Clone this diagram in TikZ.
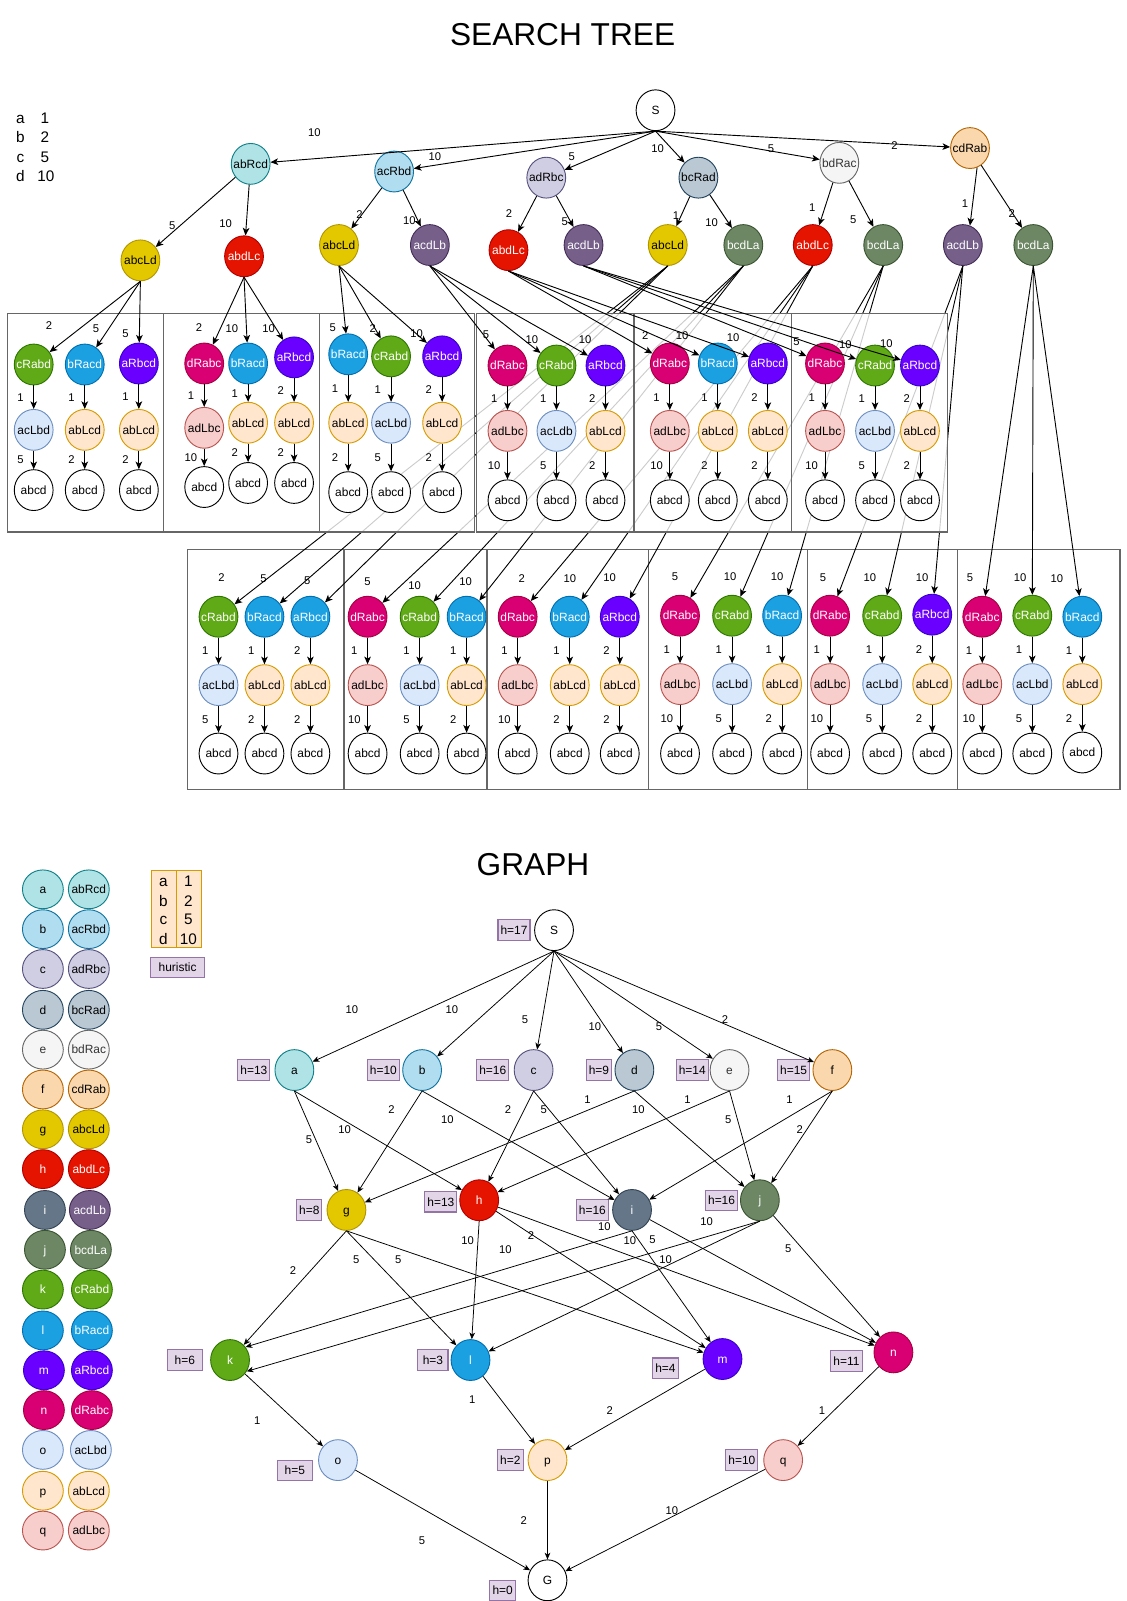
\documentclass[tikz,border=0pt]{standalone}
\usepackage{fontspec}
\setmainfont{Liberation Sans}
\usetikzlibrary{shapes.geometric,arrows.meta,calc}

\definecolor{aF}{HTML}{B0E3E6}\definecolor{aS}{HTML}{0E8088}
\definecolor{bF}{HTML}{B1DDF0}\definecolor{bS}{HTML}{10739E}
\definecolor{cF}{HTML}{D0CEE2}\definecolor{cS}{HTML}{56517E}
\definecolor{dF}{HTML}{BAC8D3}\definecolor{dS}{HTML}{23445D}
\definecolor{eF}{HTML}{F5F5F5}\definecolor{eS}{HTML}{666666}\definecolor{eT}{HTML}{333333}
\definecolor{fF}{HTML}{FAD7AC}\definecolor{fS}{HTML}{B46504}
\definecolor{gF}{HTML}{E3C800}\definecolor{gS}{HTML}{B09500}
\definecolor{hF}{HTML}{E51400}\definecolor{hS}{HTML}{B20000}
\definecolor{iF}{HTML}{647687}\definecolor{iS}{HTML}{314354}
\definecolor{itF}{HTML}{76608A}\definecolor{itS}{HTML}{432D57}
\definecolor{jF}{HTML}{6D8764}\definecolor{jS}{HTML}{3A5431}
\definecolor{kF}{HTML}{60A917}\definecolor{kS}{HTML}{2D7600}
\definecolor{lF}{HTML}{1BA1E2}\definecolor{lS}{HTML}{006EAF}
\definecolor{mF}{HTML}{6A00FF}\definecolor{mS}{HTML}{3700CC}
\definecolor{nF}{HTML}{D80073}\definecolor{nS}{HTML}{A50040}
\definecolor{oF}{HTML}{DAE8FC}\definecolor{oS}{HTML}{6C8EBF}
\definecolor{pF}{HTML}{FFE6CC}\definecolor{pS}{HTML}{D79B00}
\definecolor{qF}{HTML}{F8CECC}\definecolor{qS}{HTML}{B85450}
\definecolor{huF}{HTML}{E1D5E7}\definecolor{huS}{HTML}{9673A6}
\definecolor{boxC}{HTML}{666666}

\newcommand\nodefont{\fontsize{11.7}{13}\selectfont}
\newcommand\lblfont{\fontsize{11}{12}\selectfont}
\newcommand\titlefont{\fontsize{31}{36}\selectfont}
\newcommand\legfont{\fontsize{15}{17}\selectfont}

\tikzset{
  nd/.style={ellipse, draw, line width=0.9pt, minimum width=38pt, minimum height=40pt,
    inner xsep=-4pt, inner ysep=0pt, font=\nodefont, text height=8.4pt, text depth=0pt},
  lg/.style={nd, minimum width=40pt, minimum height=38pt},
  sA/.style={fill=aF, draw=aS, text=black},
  sB/.style={fill=bF, draw=bS, text=black},
  sC/.style={fill=cF, draw=cS, text=black},
  sD/.style={fill=dF, draw=dS, text=black},
  sE/.style={fill=eF, draw=eS, text=eT},
  sF/.style={fill=fF, draw=fS, text=black},
  sG/.style={fill=gF, draw=gS, text=black},
  sH/.style={fill=hF, draw=hS, text=white},
  sI/.style={fill=iF, draw=iS, text=white},
  sIt/.style={fill=itF, draw=itS, text=white},
  sJ/.style={fill=jF, draw=jS, text=white},
  sK/.style={fill=kF, draw=kS, text=white},
  sL/.style={fill=lF, draw=lS, text=white},
  sM/.style={fill=mF, draw=mS, text=white},
  sN/.style={fill=nF, draw=nS, text=white},
  sO/.style={fill=oF, draw=oS, text=black},
  sP/.style={fill=pF, draw=pS, text=black},
  sQ/.style={fill=qF, draw=qS, text=black},
  sW/.style={fill=white, draw=black, text=black},
  arr/.style={draw=black, line width=0.9pt, -{Stealth[length=7.5pt,width=6.5pt,inset=2pt]}},
  garr/.style={draw=black, line width=0.75pt, -{Stealth[length=6.5pt,width=5.5pt,inset=1.8pt]}},
  lbl/.style={font=\lblfont, inner sep=0pt, text=black, text height=7.8pt, text depth=0pt},
  boxa/.style={draw=boxC, line width=1.2pt, fill=white, fill opacity=0.8},
  boxb/.style={draw=boxC, line width=1.2pt},
  hb/.style={rectangle, draw=huS, fill=huF, line width=1pt, minimum height=20pt,
    inner xsep=2.5pt, inner ysep=0pt, font=\nodefont, text height=8.4pt, text depth=0pt},
  lgt/.style={font=\legfont, inner sep=0pt, text height=10.8pt, text depth=0pt},
}

\newcommand\myCol[9]{%
  \node[nd,#6] (c#1) at (#2,#3) {#7};
  \node[nd,#8] (m#1) at (#2,#4) {#9};
  \node[nd,sW] (b#1) at (#2,#5) {abcd};}
\newcommand\myVV[3]{%
  \draw[arr] (c#1) -- node[lbl,xshift=-13pt]{#2} (m#1);
  \draw[arr] (m#1) -- node[lbl,xshift=-13pt]{#3} (b#1);}
\newcommand\myE[5]{\draw[arr] (#1) -- (#2); \node[lbl] at (#3,#4) {#5};}
\newcommand\myGE[5]{\draw[garr] (#1) -- (#2); \node[lbl] at (#3,#4) {#5};}
\newcommand\lgrow[8]{%
  \node[lg,#5] (lga#1) at (#3,#2) {#7};
  \node[lg,#6] (lgb#1) at (#4,#2) {#8};}

\begin{document}
\begin{tikzpicture}[x=1pt,y=-1pt]
\useasboundingbox (0,0) rectangle (1103,1568);
\fill[white] (0,0) rectangle (1103,1568);

% titles
\node[font=\titlefont] (title1) at (551,34) {SEARCH TREE};
\node[font=\titlefont] (title2) at (522,847) {GRAPH};

% top-left legend
\node[lgt] (kl1) at (20,115.6) {a}; \node[lgt] (kn1) at (44,115.6) {1};
\node[lgt] (kl2) at (20,134) {b};   \node[lgt] (kn2) at (44,134) {2};
\node[lgt] (kl3) at (20,153.4) {c}; \node[lgt] (kn3) at (44,153.4) {5};
\node[lgt] (kl4) at (20,172) {d};   \node[lgt] (kn4) at (45,172) {10};

% ---------- row 2 boxes (outlines) ----------
\foreach \a/\b in {184/337,337/477,477/635,635/791,791/938,938/1097}
  \draw[boxb] (\a,538) rectangle (\b,773);

% row 2 nodes
\myCol{7a}{214}{604}{671}{738}{sK}{cRabd}{sO}{acLbd}
\myCol{7b}{259}{604}{671}{738}{sL}{bRacd}{sP}{abLcd}
\myCol{7c}{304}{604}{671}{738}{sL}{aRbcd}{sP}{abLcd}
\myCol{8a}{360}{604}{671}{738}{sN}{dRabc}{sQ}{adLbc}
\myCol{8b}{411}{604}{671}{738}{sK}{cRabd}{sO}{acLbd}
\myCol{8c}{457}{604}{671}{738}{sL}{bRacd}{sP}{abLcd}
\myCol{9a}{507}{604}{671}{738}{sN}{dRabc}{sQ}{adLbc}
\myCol{9b}{558}{604}{671}{738}{sL}{bRacd}{sP}{abLcd}
\myCol{9c}{607}{604}{671}{738}{sM}{aRbcd}{sP}{abLcd}
\myCol{10a}{666}{603}{670}{738}{sN}{dRabc}{sQ}{adLbc}
\myCol{10b}{717}{603}{670}{738}{sK}{cRabd}{sO}{acLbd}
\myCol{10c}{766}{603}{670}{738}{sL}{bRacd}{sP}{abLcd}
\myCol{11a}{813}{603}{670}{738}{sN}{dRabc}{sQ}{adLbc}
\myCol{11b}{864}{603}{670}{738}{sK}{cRabd}{sO}{acLbd}
\myCol{11c}{913}{602}{670}{738}{sM}{aRbcd}{sP}{abLcd}
\myCol{12a}{962}{604}{670}{738}{sN}{dRabc}{sQ}{adLbc}
\myCol{12b}{1011}{603}{670}{738}{sK}{cRabd}{sO}{acLbd}
\myCol{12c}{1060}{604}{670}{737}{sL}{bRacd}{sP}{abLcd}

% root, level 1, level 2
\node[nd,sW] (S0) at (642,108) {S};
\node[nd,sA] (T1) at (245.5,160.5) {abRcd};
\node[nd,sB] (T2) at (386,168) {acRbd};
\node[nd,sC] (T3) at (535,174) {adRbc};
\node[nd,sD] (T4) at (684,174) {bcRad};
\node[nd,sE] (T5) at (822,159.5) {bdRac};
\node[nd,sF] (T6) at (950,145) {cdRab};

\node[nd,sG]  (U1)  at (137.5,255) {abcLd};
\node[nd,sH]  (U2)  at (239,251) {abdLc};
\node[nd,sG]  (U3)  at (332,240) {abcLd};
\node[nd,sIt] (U4)  at (421,240) {acdLb};
\node[nd,sH]  (U5)  at (498,245) {abdLc};
\node[nd,sIt] (U6)  at (571.5,240) {acdLb};
\node[nd,sG]  (U7)  at (654,240) {abcLd};
\node[nd,sJ]  (U8)  at (728,240) {bcdLa};
\node[nd,sH]  (U9)  at (796,240) {abdLc};
\node[nd,sJ]  (U10) at (865,240) {bcdLa};
\node[nd,sIt] (U11) at (943,240) {acdLb};
\node[nd,sJ]  (U12) at (1012,240) {bcdLa};

% long edges to row 2
\myE{U7.south}{c7a}{217}{566}{2}
\myE{U7.south}{c7b}{258}{567}{5}
\myE{U7.south}{c7c}{301}{569}{5}
\myE{U8.south}{c8a}{360}{570}{5}
\myE{U8.south}{c8b}{406}{573}{10}
\myE{U8.south}{c8c}{456}{570}{10}
\myE{U9.south}{c9a}{511}{567}{2}
\myE{U9.south}{c9b}{558}{567}{10}
\myE{U9.south}{c9c}{597}{566}{10}
\myE{U10.south}{c10a}{661}{565}{5}
\myE{U10.south}{c10b}{715}{565}{10}
\myE{U10.south}{c10c}{761}{565}{10}
\myE{U11.south}{c11a}{806}{566}{5}
\myE{U11.south}{c11b}{852}{566}{10}
\myE{U11.south}{c11c}{903}{566}{10}
\myE{U12.south}{c12a}{950}{566}{5}
\myE{U12.south}{c12b}{999}{566}{10}
\myE{U12.south}{c12c}{1035}{567}{10}

\myVV{7a}{1}{5} \myVV{7b}{1}{2} \myVV{7c}{2}{2}
\myVV{8a}{1}{10} \myVV{8b}{1}{5} \myVV{8c}{1}{2}
\myVV{9a}{1}{10} \myVV{9b}{1}{2} \myVV{9c}{2}{2}
\myVV{10a}{1}{10} \myVV{10b}{1}{5} \myVV{10c}{1}{2}
\myVV{11a}{1}{10} \myVV{11b}{1}{5} \myVV{11c}{2}{2}
\myVV{12a}{1}{10} \myVV{12b}{1}{5} \myVV{12c}{1}{2}

% ---------- row 1 boxes (semi-opaque) ----------
\foreach \a/\b in {7/160,160/313,313/465,467/621,621/775,775/928}
  \draw[boxa] (\a,307) rectangle (\b,521);

\myCol{1a}{33}{357}{421}{480}{sK}{cRabd}{sO}{acLbd}
\myCol{1b}{83}{357}{421}{480}{sL}{bRacd}{sP}{abLcd}
\myCol{1c}{136}{356}{421}{480}{sM}{aRbcd}{sP}{abLcd}
\myCol{2a}{200}{356}{419}{477}{sN}{dRabc}{sQ}{adLbc}
\myCol{2b}{243}{356}{414}{473}{sL}{bRacd}{sP}{abLcd}
\myCol{2c}{288}{350}{414}{473}{sM}{aRbcd}{sP}{abLcd}
\myCol{3a}{341}{347}{414}{482}{sL}{bRacd}{sP}{abLcd}
\myCol{3b}{383}{349}{414}{482}{sK}{cRabd}{sO}{acLbd}
\myCol{3c}{433}{349}{414}{482}{sM}{aRbcd}{sP}{abLcd}
\myCol{4a}{497}{358}{422}{490}{sN}{dRabc}{sQ}{adLbc}
\myCol{4b}{545}{358}{422}{490}{sK}{cRabd}{sO}{acLdb}
\myCol{4c}{593}{358}{422}{490}{sM}{aRbcd}{sP}{abLcd}
\myCol{5a}{656}{356}{422}{490}{sN}{dRabc}{sQ}{adLbc}
\myCol{5b}{703}{356}{422}{490}{sL}{bRacd}{sP}{abLcd}
\myCol{5c}{752}{356}{422}{490}{sM}{aRbcd}{sP}{abLcd}
\myCol{6a}{808}{356}{422}{490}{sN}{dRabc}{sQ}{adLbc}
\myCol{6b}{857}{358}{422}{490}{sK}{cRabd}{sO}{acLbd}
\myCol{6c}{901}{358}{422}{490}{sM}{aRbcd}{sP}{abLcd}

\myE{U1.south}{c1a}{48}{319}{2}
\myE{U1.south}{c1b}{94}{322}{5}
\myE{U1.south}{c1c}{123}{327}{5}
\myE{U2.south}{c2a}{195}{321}{2}
\myE{U2.south}{c2b}{227}{322}{10}
\myE{U2.south}{c2c}{263}{322}{10}
\myE{U3.south}{c3a}{326}{321}{5}
\myE{U3.south}{c3b}{365}{322}{2}
\myE{U3.south}{c3c}{408}{327}{10}
\myE{U4.south}{c4a}{476}{328}{5}
\myE{U4.south}{c4b}{521}{333}{10}
\myE{U4.south}{c4c}{573}{333}{10}
\myE{U5.south}{c5a}{632}{329}{2}
\myE{U5.south}{c5b}{668}{329}{10}
\myE{U5.south}{c5c}{718}{331}{10}
\myE{U6.south}{c6a}{780}{334}{5}
\myE{U6.south}{c6b}{828}{337}{10}
\myE{U6.south}{c6c}{868}{336}{10}

\myVV{1a}{1}{5} \myVV{1b}{1}{2} \myVV{1c}{1}{2}
\myVV{2a}{1}{10} \myVV{2b}{1}{2} \myVV{2c}{2}{2}
\myVV{3a}{1}{2} \myVV{3b}{1}{5} \myVV{3c}{2}{2}
\myVV{4a}{1}{10} \myVV{4b}{1}{5} \myVV{4c}{2}{2}
\myVV{5a}{1}{10} \myVV{5b}{1}{2} \myVV{5c}{2}{2}
\myVV{6a}{1}{10} \myVV{6b}{1}{5} \myVV{6c}{2}{2}

% upper edges
\myE{S0.south}{T1}{308}{130}{10}
\myE{S0.south}{T2}{426}{153}{10}
\myE{S0.south}{T3}{560}{153}{5}
\myE{S0.south}{T4}{644}{145}{10}
\myE{S0.south}{T5}{755}{145}{5}
\myE{S0.south}{T6}{876}{143}{2}
\myE{T1}{U1}{168.6}{221}{5}
\myE{T1}{U2}{221}{219}{10}
\myE{T2}{U3}{352}{210}{2}
\myE{T2}{U4}{401}{215.5}{10}
\myE{T3}{U5}{498.6}{209}{2}
\myE{T3}{U6}{553}{216.5}{5}
\myE{T4}{U7}{662}{210.6}{1}
\myE{T4}{U8}{697}{218}{10}
\myE{T5}{U9}{795.5}{203.4}{1}
\myE{T5}{U10}{835.6}{214.6}{5}
\myE{T6.290}{U11.70}{945}{199.8}{1}
\myE{T6}{U12}{991}{209.6}{2}

% ---------- GRAPH ----------
% legend columns
\lgrow{1}{871}{42}{87}{sA}{sA}{a}{abRcd}
\lgrow{2}{910}{42}{87}{sB}{sB}{b}{acRbd}
\lgrow{3}{949}{42}{87}{sC}{sC}{c}{adRbc}
\lgrow{4}{989}{42}{87}{sD}{sD}{d}{bcRad}
\lgrow{5}{1028}{42}{87}{sE}{sE}{e}{bdRac}
\lgrow{6}{1067}{42}{87}{sF}{sF}{f}{cdRab}
\lgrow{7}{1106}{42}{87}{sG}{sG}{g}{abcLd}
\lgrow{8}{1145}{42}{87}{sH}{sH}{h}{abdLc}
\lgrow{9}{1185}{44}{88}{sI}{sIt}{i}{acdLb}
\lgrow{10}{1224}{44}{89}{sJ}{sJ}{j}{bcdLa}
\lgrow{11}{1263}{42}{90}{sK}{sK}{k}{cRabd}
\lgrow{12}{1303}{42}{90}{sL}{sL}{l}{bRacd}
\lgrow{13}{1342}{43}{90}{sM}{sM}{m}{aRbcd}
\lgrow{14}{1381}{43}{90}{sN}{sN}{n}{dRabc}
\lgrow{15}{1420}{42}{89}{sO}{sO}{o}{acLbd}
\lgrow{16}{1460}{42}{87}{sP}{sP}{p}{abLcd}
\lgrow{17}{1499}{42}{87}{sQ}{sQ}{q}{adLbc}

% cost table
\node[rectangle, draw=pS, fill=pF, line width=1pt, minimum width=24.8pt, minimum height=75.6pt,
  inner sep=0pt, anchor=north west] (tab1) at (147.6,852) {};
\node[rectangle, draw=pS, fill=pF, line width=1pt, minimum width=24.8pt, minimum height=75.6pt,
  inner sep=0pt, anchor=north west] (tab2) at (172.4,852) {};
\node[lgt] (ta1) at (160,863.2) {a}; \node[lgt] (tn1) at (184.5,863.2) {1};
\node[lgt] (ta2) at (160,882) {b};   \node[lgt] (tn2) at (184.5,882) {2};
\node[lgt] (ta3) at (160,900.4) {c}; \node[lgt] (tn3) at (184.5,900.4) {5};
\node[lgt] (ta4) at (160,919.2) {d}; \node[lgt] (tn4) at (184.5,919.2) {10};
\node[hb, minimum width=52.6pt, minimum height=19.5pt] (hur) at (173.9,947.2) {huristic};

% graph nodes
\node[nd,sW] (vS) at (542.6,911) {S};      \node[hb] (hbS) at (503.4,911) {h=17};
\node[nd,sA] (va) at (288.3,1048) {a};     \node[hb] (hba) at (248.7,1048) {h=13};
\node[nd,sB] (vb) at (413.4,1048) {b};     \node[hb] (hbb) at (375.5,1048) {h=10};
\node[nd,sC] (vc) at (522.6,1048) {c};     \node[hb] (hbc) at (482.6,1048) {h=16};
\node[nd,sD] (vd) at (621.3,1048) {d};     \node[hb] (hbd) at (586.6,1048) {h=9};
\node[nd,sE] (ve) at (714.5,1048) {e};     \node[hb] (hbe) at (678,1048) {h=14};
\node[nd,sF] (vf) at (815.2,1048) {f};     \node[hb] (hbf) at (777.3,1048) {h=15};
\node[nd,sG] (vg) at (339.3,1185) {g};     \node[hb] (hbg) at (302.9,1185) {h=8};
\node[nd,sH] (vh) at (469.3,1175.5) {h};   \node[hb] (hbh) at (431.8,1177) {h=13};
\node[nd,sI] (vi) at (619,1185) {i};       \node[hb] (hbi) at (580.2,1185) {h=16};
\node[nd,sJ] (vj) at (744.2,1175.5) {j};   \node[hb] (hbj) at (706.7,1175.5) {h=16};
\node[nd,sK] (vk) at (225.3,1332) {k};     \node[hb, minimum width=34pt] (hbk) at (181,1332) {h=6};
\node[nd,sL] (vl) at (460.8,1332) {l};     \node[hb, minimum width=29.5pt] (hbl) at (424,1332) {h=3};
\node[nd,sM] (vm) at (707.6,1331) {m};     \node[hb] (hbm) at (651.7,1340) {h=4};
\node[nd,sN] (vn) at (875,1324.5) {n};     \node[hb] (hbn) at (829,1333) {h=11};
\node[nd,sO] (vo) at (331,1430) {o};       \node[hb, minimum width=33.7pt] (hbo) at (288.8,1440) {h=5};
\node[nd,sP] (vp) at (536.2,1430) {p};     \node[hb] (hbp) at (499.8,1430) {h=2};
\node[nd,sQ] (vq) at (767,1430) {q};       \node[hb] (hbq) at (726.6,1430) {h=10};
\node[nd,sW] (vG) at (536.2,1547.7) {G};   \node[hb] (hbG) at (492.3,1557.5) {h=0};

% graph edges
\myGE{vS.south}{va}{344.6}{988.7}{10}
\myGE{vS.south}{vb}{442.6}{988.7}{10}
\myGE{vS.south}{vc}{514.2}{998.5}{5}
\myGE{vS.south}{vd}{582.5}{1005.7}{10}
\myGE{vS.south}{ve}{645.3}{1005.7}{5}
\myGE{vS.south}{vf}{710}{998.5}{2}
\myGE{va.south}{vg}{302.7}{1116}{5}
\myGE{va.south}{vh}{337.5}{1106.2}{10}
\myGE{vb.south}{vg}{383.4}{1086.6}{2}
\myGE{vb.south}{vi}{438.2}{1096.4}{10}
\myGE{vc.south}{vh}{497.4}{1086.6}{2}
\myGE{vc.south}{vi}{532.6}{1086.6}{5}
\myGE{vd.south}{vg}{575.3}{1076.8}{1}
\myGE{vd.south}{vj}{625.3}{1086.6}{10}
\myGE{ve.south}{vh}{673.2}{1076.8}{1}
\myGE{ve.south}{vj}{713.3}{1096.4}{5}
\myGE{vf.south}{vi}{773.3}{1076.8}{1}
\myGE{vf.south}{vj}{783.3}{1106.2}{2}
\myGE{vg.south}{vk}{287}{1244}{2}
\myGE{vg.south}{vl}{349}{1234}{5}
\myGE{vg.south}{vm}{390}{1234}{5}
\myGE{vh.south}{vl}{458}{1215}{10}
\myGE{vh}{vm}{495}{1224}{10}
\myGE{vh}{vn}{520}{1210}{2}
\myGE{vi.south}{vk.40}{592}{1201}{10}
\myGE{vi.south}{vm}{652}{1234}{10}
\myGE{vi}{vn}{639}{1214}{5}
\myGE{vj.south}{vk.-34}{617}{1215}{10}
\myGE{vj.south}{vl}{692}{1196}{10}
\myGE{vj}{vn}{772}{1223}{5}
\myGE{vk}{vo}{252}{1391}{1}
\myGE{vl}{vp}{462.4}{1371}{1}
\myGE{vm}{vp}{597.2}{1381}{2}
\myGE{vn}{vq}{805}{1381}{1}
\myGE{vo}{vG}{413.4}{1508.5}{5}
\myGE{vp.south}{vG}{513}{1489}{2}
\myGE{vq}{vG}{658}{1479}{10}
\end{tikzpicture}
\end{document}
